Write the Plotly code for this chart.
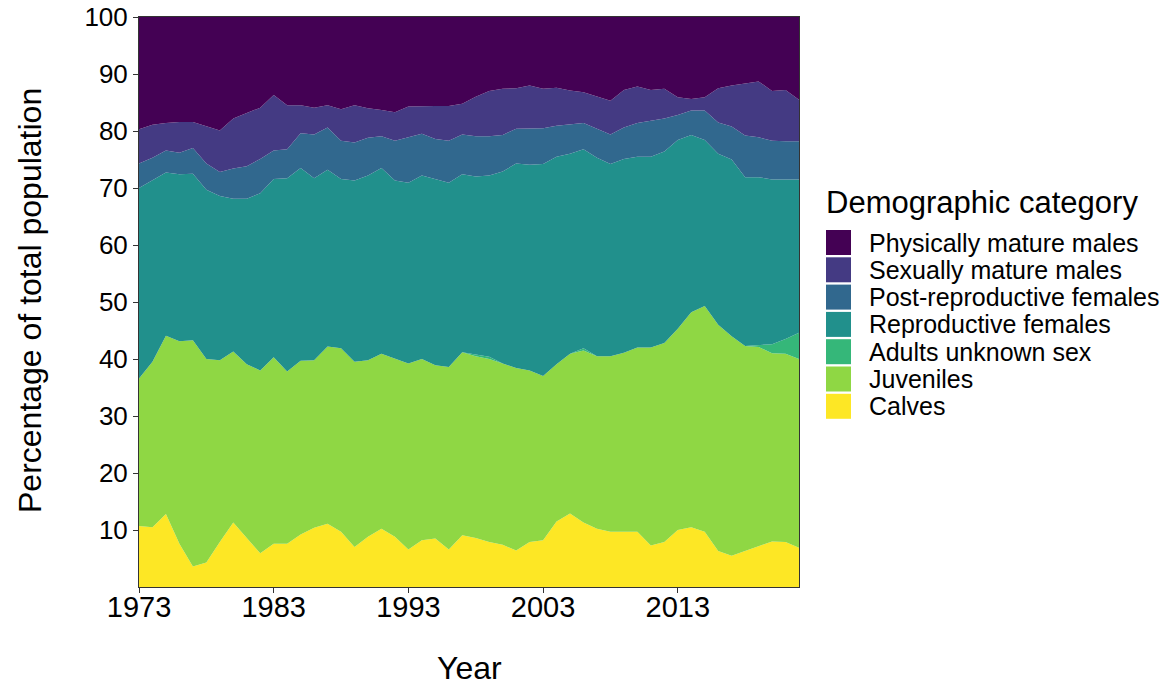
import plotly.graph_objects as go

years = list(range(1973, 2023))

# Percentage of the total population in each demographic category, per year
calves = [10.7, 10.5, 12.8, 7.6, 3.6, 4.3, 7.9, 11.3, 8.6, 5.9,
          7.6, 7.6, 9.2, 10.4, 11.1, 9.7, 7.0, 8.8, 10.2, 8.8,
          6.6, 8.2, 8.5, 6.6, 9.1, 8.6, 7.9, 7.4, 6.4, 7.9,
          8.2, 11.5, 12.9, 11.3, 10.2, 9.7, 9.7, 9.7, 7.3, 7.9,
          10.0, 10.5, 9.7, 6.3, 5.5, 6.3, 7.2, 8.0, 7.9, 6.9]
juveniles = [25.9, 29.0, 31.3, 35.5, 39.7, 35.7, 31.9, 30.0, 30.5, 32.1,
             32.7, 30.2, 30.5, 29.4, 31.1, 32.2, 32.5, 31.0, 30.7, 31.3,
             32.6, 31.8, 30.4, 32.0, 32.1, 31.9, 32.1, 31.8, 32.0, 30.1,
             28.8, 27.6, 28.0, 30.2, 30.3, 30.8, 31.4, 32.3, 34.7, 34.9,
             35.3, 37.7, 39.6, 39.7, 38.5, 36.0, 34.9, 33.0, 33.0, 33.1]
adults_unknown = [0, 0, 0, 0, 0, 0, 0, 0, 0, 0,
                  0, 0, 0, 0, 0, 0, 0, 0, 0, 0,
                  0, 0, 0, 0, 0, 0.3, 0.4, 0, 0, 0,
                  0, 0, 0, 0.4, 0, 0, 0, 0, 0, 0,
                  0, 0, 0, 0, 0, 0, 0.4, 1.6, 2.6, 4.6]
reproductive_f = [33.4, 31.9, 28.6, 29.3, 29.2, 29.7, 28.8, 26.8, 29.0, 31.1,
                  31.3, 33.9, 33.8, 31.9, 31.0, 29.7, 31.8, 32.4, 32.6, 31.2,
                  31.7, 32.2, 32.7, 32.3, 31.2, 31.2, 31.8, 33.7, 35.9, 36.1,
                  37.2, 36.4, 35.1, 34.9, 34.8, 33.7, 34.0, 33.5, 33.5, 33.6,
                  33.1, 31.1, 29.1, 30.0, 31.0, 29.6, 29.4, 28.9, 28.0, 26.9]
post_reproductive_f = [4.3, 3.9, 3.9, 3.8, 4.5, 4.6, 4.2, 5.3, 5.7, 6.0,
                       5.0, 5.1, 6.1, 7.7, 7.4, 6.7, 6.7, 6.6, 5.6, 7.0,
                       8.0, 7.3, 7.0, 7.4, 7.0, 7.1, 6.9, 6.4, 6.1, 6.4,
                       6.3, 5.4, 5.2, 4.6, 5.1, 5.2, 5.5, 5.9, 6.3, 5.8,
                       4.4, 4.3, 5.2, 5.5, 5.8, 7.3, 7.0, 6.8, 6.7, 6.7]
sexually_mature_m = [6.0, 5.8, 4.8, 5.4, 4.6, 6.6, 7.3, 8.8, 9.4, 9.0,
                     9.7, 7.7, 4.9, 4.7, 3.9, 5.5, 6.5, 5.2, 4.6, 5.0,
                     5.4, 4.9, 5.8, 6.1, 5.4, 6.9, 7.9, 8.1, 7.1, 7.5,
                     6.9, 6.7, 5.9, 5.4, 5.7, 5.9, 6.6, 6.4, 5.4, 5.2,
                     3.1, 2.0, 2.3, 6.0, 7.2, 9.1, 9.8, 8.7, 9.0, 7.3]
physically_mature_m = [19.7, 18.9, 18.6, 18.4, 18.4, 19.1, 19.9, 17.8, 16.8, 15.9,
                       13.7, 15.5, 15.5, 15.9, 15.5, 16.2, 15.5, 16.0, 16.3, 16.7,
                       15.7, 15.6, 15.6, 15.6, 15.2, 14.0, 13.0, 12.6, 12.5, 12.0,
                       12.6, 12.4, 12.9, 13.2, 13.9, 14.7, 12.8, 12.2, 12.8, 12.6,
                       14.1, 14.4, 14.1, 12.5, 12.0, 11.7, 11.3, 13.0, 12.8, 14.5]

# Stacking order, bottom to top
series = [
    ("Calves", calves, "#FDE725"),
    ("Juveniles", juveniles, "#8FD744"),
    ("Adults unknown sex", adults_unknown, "#35B779"),
    ("Reproductive females", reproductive_f, "#21908C"),
    ("Post-reproductive females", post_reproductive_f, "#31688E"),
    ("Sexually mature males", sexually_mature_m, "#443A83"),
    ("Physically mature males", physically_mature_m, "#440154"),
]

x_ticks = [1973, 1983, 1993, 2003, 2013]
y_ticks = [10, 20, 30, 40, 50, 60, 70, 80, 90, 100]

FONT = "Liberation Sans, Arial, sans-serif"

fig = go.Figure()
for name, vals, col in series:
    fig.add_trace(go.Scatter(
        x=years, y=vals, name=name, mode="lines",
        stackgroup="one", line=dict(width=0, color=col),
        fillcolor=col, showlegend=False, hoverinfo="x+y+name",
    ))

W, H = 1162, 686
L, R, T, B = 139, 799, 17, 587


def px(xp):
    # figure pixel -> paper x
    return (xp - L) / (R - L)


def py(yp):
    # figure pixel -> paper y
    return (B - yp) / (B - T)


fig.update_layout(
    width=W, height=H,
    margin=dict(l=L, r=W - R, t=T, b=H - B, pad=0, autoexpand=False),
    paper_bgcolor="white", plot_bgcolor="white",
    font=dict(family=FONT, color="black"),
    showlegend=False,
    xaxis=dict(
        range=[1973, 2022], tickvals=x_ticks, ticktext=[str(v) for v in x_ticks],
        showgrid=False, zeroline=False, showline=True, mirror=True,
        linecolor="#333333", linewidth=1, ticks="outside", ticklen=5,
        tickcolor="#333333", tickfont=dict(size=29, color="black"),
        ticklabelstandoff=-11, automargin=False,
    ),
    yaxis=dict(
        range=[0, 100], tickvals=y_ticks,
        showgrid=False, zeroline=False, showline=True, mirror=True,
        linecolor="#333333", linewidth=1, ticks="outside", ticklen=5,
        tickcolor="#333333", tickfont=dict(size=26, color="black"),
        automargin=False,
    ),
)

annotations = [
    dict(text="Year", x=0.5, y=py(668), xref="paper", yref="paper",
         showarrow=False, xanchor="center", yanchor="middle",
         font=dict(size=32, family=FONT, color="black")),
    dict(text="Percentage of total population", x=px(30), y=py(301),
         xref="paper", yref="paper", showarrow=False, textangle=-90,
         xanchor="center", yanchor="middle",
         font=dict(size=32, family=FONT, color="black")),
    dict(text="Demographic category", x=px(824), y=py(202),
         xref="paper", yref="paper", showarrow=False,
         xanchor="left", yanchor="middle",
         font=dict(size=31, family=FONT, color="black")),
]

# Legend keys, top entry first
shapes = []
key_top, key_step, key_size = 230, 27.3, 25
for i, (name, vals, col) in enumerate(reversed(series)):
    y0 = key_top + i * key_step
    shapes.append(dict(type="rect", xref="paper", yref="paper",
                       x0=px(826), x1=px(826 + key_size),
                       y0=py(y0 + key_size), y1=py(y0),
                       fillcolor=col, line=dict(width=0)))
    annotations.append(dict(text=name, x=px(867), y=py(y0 + key_size / 2),
                            xref="paper", yref="paper", showarrow=False,
                            xanchor="left", yanchor="middle",
                            font=dict(size=25, family=FONT, color="black")))

fig.update_layout(annotations=annotations, shapes=shapes)
fig.write_html("out.html")
